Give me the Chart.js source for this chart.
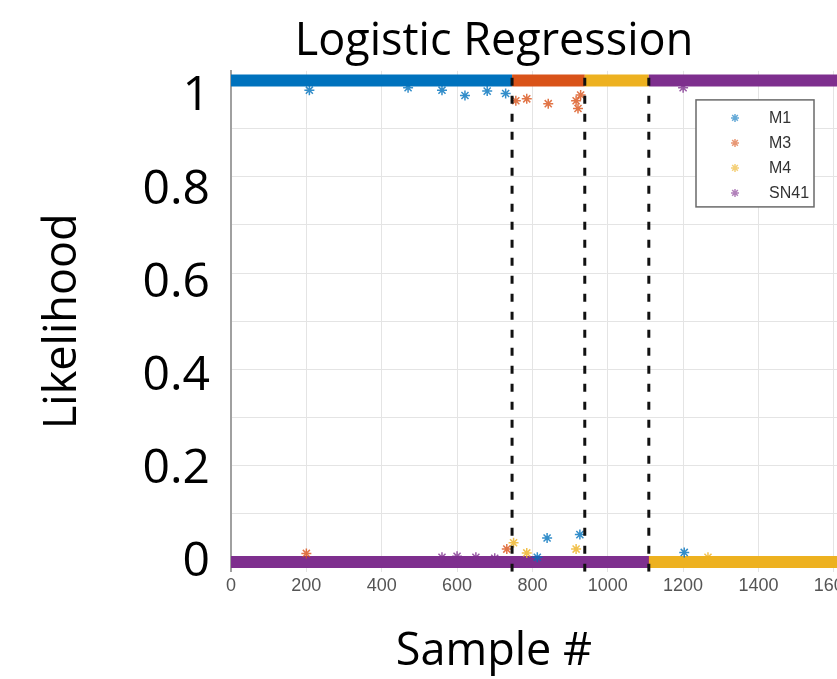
<!DOCTYPE html>
<html>
<head>
<meta charset="utf-8">
<title>Logistic Regression</title>
<script src="https://cdn.jsdelivr.net/npm/chart.js@4.4.1/dist/chart.umd.min.js"></script>
<style>
  html, body { margin: 0; padding: 0; overflow: hidden; background: #fff; }
</style>
</head>
<body>
<canvas id="chart" width="988" height="679"></canvas>
<script>
// Класи та кольори
const classNames = ["M1", "M3", "M4", "SN41"]
const classColors = ["#0072BD", "#D95319", "#EDB120", "#7E2F8E"]

// Межі класів (пунктирні лінії) та межа осі X
const boundaries = [746, 939, 1109]
const xMax = 1992

// Суцільні смуги точок: [від, до, ймовірність]
const m1Band = [[0, 746, 1], [746, 1700, 0]]
const m3Band = [[746, 939, 1], [0, 746, 0], [939, 1700, 0]]
const m4Band = [[939, 1109, 1], [0, 939, 0], [1109, 1700, 0]]
const sn41Band = [[1109, 1700, 1], [0, 1109, 0]]

// Окремі точки поза смугами: [відлік, ймовірність]
const m1Outliers = [[208, 0.98], [470, 0.985], [560, 0.98], [621, 0.969], [680, 0.978], [729, 0.973], [813, 0.01], [839, 0.05], [926, 0.057], [1203, 0.02]]
const m3Outliers = [[200, 0.018], [732, 0.027], [756, 0.958], [785, 0.962], [842, 0.952], [916, 0.958], [921, 0.942], [928, 0.97]]
const m4Outliers = [[750, 0.04], [785, 0.019], [916, 0.027], [1266, 0.01]]
const sn41Outliers = [[560, 0.01], [600, 0.012], [650, 0.01], [700, 0.008], [1200, 0.985]]

// Поділки осей
const xTicks = [0, 200, 400, 600, 800, 1000, 1200, 1400, 1600]
const yGrid = [0, 0.1, 0.2, 0.3, 0.4, 0.5, 0.6, 0.7, 0.8, 0.9, 1]
const yTickLabels = [0, 0.2, 0.4, 0.6, 0.8, 1]

const bands = [m1Band, m3Band, m4Band, sn41Band]
const outliers = [m1Outliers, m3Outliers, m4Outliers, sn41Outliers]

function bandData(segments) {
  const pts = []
  segments.forEach(([x0, x1, y]) => {
    pts.push({ x: x0, y: y }, { x: x1, y: y }, { x: x1, y: null })
  })
  return pts
}

function boundaryData() {
  const pts = []
  boundaries.forEach((b) => {
    pts.push({ x: b, y: -0.02 }, { x: b, y: 1.02 }, { x: b, y: null })
  })
  return pts
}

const datasets = []
classNames.forEach((name, i) => {
  datasets.push({
    label: name,
    data: bandData(bands[i]),
    borderColor: classColors[i],
    borderWidth: 12,
    borderCapStyle: "butt",
    pointRadius: 0,
    spanGaps: false,
    order: 8 - i,
  })
  datasets.push({
    label: name,
    data: outliers[i].map(([x, y]) => ({ x, y })),
    showLine: false,
    pointStyle: "star",
    pointRadius: 5,
    pointBorderWidth: 1.5,
    borderColor: classColors[i] + "cc",
    backgroundColor: classColors[i] + "cc",
    order: 4 - i,
  })
})
datasets.push({
  label: "boundaries",
  data: boundaryData(),
  borderColor: "#111",
  borderWidth: 3,
  borderDash: [8, 10],
  pointRadius: 0,
  spanGaps: false,
  order: 0,
})

// Легенда в рамці всередині графіка
const legendBox = {
  id: "legendBox",
  afterDraw(chart) {
    const { ctx, chartArea } = chart
    const left = chartArea.left + 465
    const top = chartArea.top + 29
    ctx.save()
    ctx.fillStyle = "#fff"
    ctx.fillRect(left, top, 118, 107)
    ctx.strokeStyle = "#6a6a6a"
    ctx.lineWidth = 1.5
    ctx.strokeRect(left, top, 118, 107)
    ctx.font = "16px 'Liberation Sans'"
    ctx.textBaseline = "middle"
    classNames.forEach((name, i) => {
      const y = top + 18 + i * 25
      const x = left + 39
      ctx.strokeStyle = classColors[i] + "99"
      ctx.lineWidth = 1.5
      ctx.beginPath()
      for (let k = 0; k < 4; k++) {
        const a = (k * Math.PI) / 4
        ctx.moveTo(x - 4 * Math.cos(a), y - 4 * Math.sin(a))
        ctx.lineTo(x + 4 * Math.cos(a), y + 4 * Math.sin(a))
      }
      ctx.stroke()
      ctx.fillStyle = "#333"
      ctx.fillText(name, left + 73, y + 1)
    })
    ctx.restore()
  },
}

const bigFont = { family: "'Open Sans'", size: 45, weight: "normal" }
const gridColor = "#e4e4e4"

new Chart(document.getElementById("chart"), {
  type: "line",
  data: { datasets },
  options: {
    responsive: false,
    animation: false,
    layout: { padding: 0 },
    plugins: {
      legend: { display: false },
      tooltip: { enabled: false },
      title: {
        display: true,
        text: "Logistic Regression",
        color: "#000",
        font: bigFont,
        padding: { top: 15.5, bottom: 1.4 },
      },
      subtitle: {
        display: true,
        position: "bottom",
        text: "Sample #",
        color: "#000",
        font: bigFont,
        padding: { top: 23.7, bottom: 0 },
      },
    },
    scales: {
      x: {
        type: "linear",
        min: 0,
        max: xMax,
        afterBuildTicks: (s) => { s.ticks = xTicks.map((v) => ({ value: v })) },
        grid: { color: gridColor, drawTicks: false },
        border: { display: false },
        ticks: {
          font: { family: "'Liberation Sans'", size: 18 },
          color: "#555",
          padding: 4,
          maxRotation: 0,
          autoSkip: false,
          callback: (v) => String(v),
        },
      },
      y: {
        position: "left",
        min: -0.02,
        max: 1.02,
        afterBuildTicks: (s) => { s.ticks = yGrid.map((v) => ({ value: v })) },
        grid: { color: gridColor, drawTicks: false },
        border: { display: true, color: "#a0a0a0", width: 2 },
        ticks: { display: false },
        afterFit: (s) => { s.width = 0 },
      },
      yLab: {
        position: "left",
        min: -0.0195,
        max: 1.0555,
        afterBuildTicks: (s) => { s.ticks = yTickLabels.map((v) => ({ value: v })) },
        grid: { display: false, drawTicks: false },
        border: { display: false },
        ticks: {
          font: { family: "'Open Sans'", size: 48 },
          color: "#000",
          padding: 21,
          callback: (v) => String(v),
        },
        title: {
          display: true,
          text: "Likelihood",
          color: "#000",
          font: bigFont,
          padding: { top: 36, bottom: 0 },
        },
        afterFit: (s) => { s.width = 231 },
      },
    },
  },
  plugins: [legendBox],
})
</script>
</body>
</html>
